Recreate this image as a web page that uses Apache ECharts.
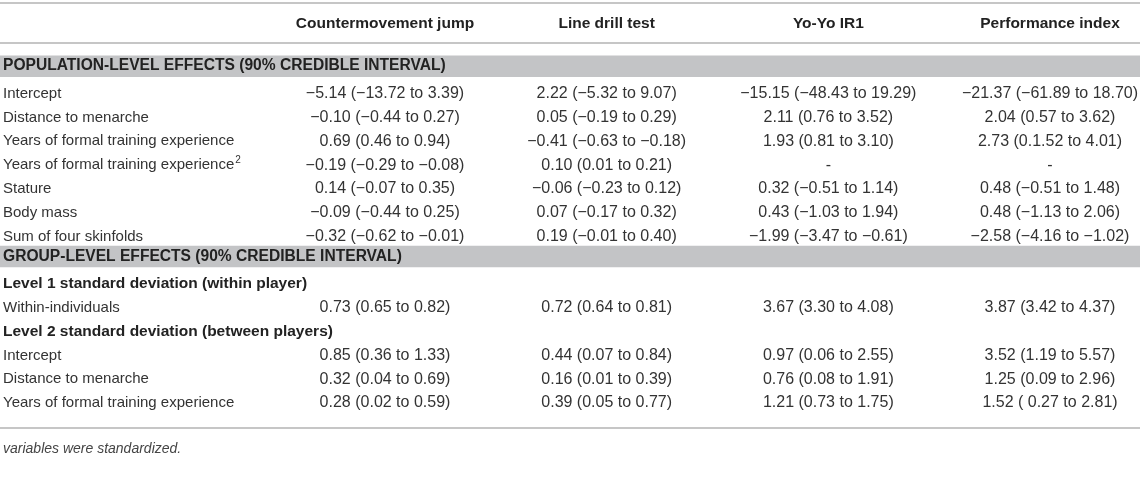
<!DOCTYPE html>
<html lang="en">
<head>
    <meta charset="UTF-8">
    <title>Model estimates</title>
    <script src="https://cdn.jsdelivr.net/npm/echarts@6/dist/echarts.min.js"></script>
    <style>
        html, body { margin: 0; padding: 0; background: #fff; }
        #table { width: 1143px; height: 482px; }
    </style>
</head>
<body>
<div id="table"></div>
<script>
    // column headers
    var columns = ['Countermovement jump', 'Line drill test', 'Yo-Yo IR1', 'Performance index'];

    // row labels ({band|..}/{h|..} = bold section rows, {sup|..} = superscript)
    var rowLabels = [
        '{band|POPULATION-LEVEL EFFECTS (90% CREDIBLE INTERVAL)}',
        'Intercept',
        'Distance to menarche',
        'Years of formal training experience',
        'Years of formal training experience{sup|2}',
        'Stature',
        'Body mass',
        'Sum of four skinfolds',
        '{band|GROUP-LEVEL EFFECTS (90% CREDIBLE INTERVAL)}',
        '{h|Level 1 standard deviation (within player)}',
        'Within-individuals',
        '{h|Level 2 standard deviation (between players)}',
        'Intercept',
        'Distance to menarche',
        'Years of formal training experience'
    ];

    // rows that get the grey band
    var bandRows = [0, 8];

    var cmj = ['', '−5.14 (−13.72 to 3.39)', '−0.10 (−0.44 to 0.27)', '0.69 (0.46 to 0.94)',
        '−0.19 (−0.29 to −0.08)', '0.14 (−0.07 to 0.35)', '−0.09 (−0.44 to 0.25)', '−0.32 (−0.62 to −0.01)',
        '', '', '0.73 (0.65 to 0.82)', '', '0.85 (0.36 to 1.33)', '0.32 (0.04 to 0.69)', '0.28 (0.02 to 0.59)'];
    var lineDrill = ['', '2.22 (−5.32 to 9.07)', '0.05 (−0.19 to 0.29)', '−0.41 (−0.63 to −0.18)',
        '0.10 (0.01 to 0.21)', '−0.06 (−0.23 to 0.12)', '0.07 (−0.17 to 0.32)', '0.19 (−0.01 to 0.40)',
        '', '', '0.72 (0.64 to 0.81)', '', '0.44 (0.07 to 0.84)', '0.16 (0.01 to 0.39)', '0.39 (0.05 to 0.77)'];
    var yoyo = ['', '−15.15 (−48.43 to 19.29)', '2.11 (0.76 to 3.52)', '1.93 (0.81 to 3.10)',
        '-', '0.32 (−0.51 to 1.14)', '0.43 (−1.03 to 1.94)', '−1.99 (−3.47 to −0.61)',
        '', '', '3.67 (3.30 to 4.08)', '', '0.97 (0.06 to 2.55)', '0.76 (0.08 to 1.91)', '1.21 (0.73 to 1.75)'];
    var perfIndex = ['', '−21.37 (−61.89 to 18.70)', '2.04 (0.57 to 3.62)', '2.73 (0.1.52 to 4.01)',
        '-', '0.48 (−0.51 to 1.48)', '0.48 (−1.13 to 2.06)', '−2.58 (−4.16 to −1.02)',
        '', '', '3.87 (3.42 to 4.37)', '', '3.52 (1.19 to 5.57)', '1.25 (0.09 to 2.96)', '1.52 ( 0.27 to 2.81)'];

    var footnote = 'variables were standardized.';

    // cells: [column, row, text]
    var cells = [];
    [cmj, lineDrill, yoyo, perfIndex].forEach(function (col, c) {
        col.forEach(function (txt, r) {
            if (txt !== '') cells.push([c, r, txt]);
        });
    });

    var font = "'Liberation Sans', Arial, Helvetica, sans-serif";
    var ruleColor = '#c6c6c6';

    var chart = echarts.init(document.getElementById('table'));
    var option = {
        animation: false,
        title: {
            text: footnote,
            left: 3,
            top: 442,
            padding: 0,
            textStyle: {fontFamily: font, fontSize: 14, fontStyle: 'italic', fontWeight: 'normal', color: '#444'}
        },
        grid: {left: 385, right: 93, top: 70, bottom: 79},
        xAxis: {
            type: 'category',
            position: 'top',
            data: columns,
            boundaryGap: false,
            axisLine: {show: false},
            axisTick: {show: false},
            splitLine: {show: false},
            axisLabel: {
                interval: 0,
                margin: 38,
                fontFamily: font,
                fontSize: 15.5,
                fontWeight: 'bold',
                color: '#222'
            }
        },
        yAxis: {
            type: 'category',
            inverse: true,
            data: rowLabels,
            boundaryGap: false,
            z: 10,
            axisLine: {show: false},
            axisTick: {show: false},
            splitLine: {show: false},
            axisLabel: {
                interval: 0,
                align: 'left',
                margin: 382,
                fontFamily: font,
                fontSize: 15,
                color: '#333',
                rich: {
                    band: {fontFamily: font, fontSize: 15.6, fontWeight: 'bold', color: '#222', padding: [0, 0, 8, 0]},
                    h: {fontFamily: font, fontSize: 15.5, fontWeight: 'bold', color: '#222'},
                    sup: {fontFamily: font, fontSize: 10, color: '#333', padding: [0, 0, 9, 1]}
                }
            }
        },
        graphic: [
            {type: 'rect', shape: {x: 0, y: 2, width: 1140, height: 2}, style: {fill: ruleColor}},
            {type: 'rect', shape: {x: 0, y: 42, width: 1140, height: 2}, style: {fill: ruleColor}},
            {type: 'rect', shape: {x: 0, y: 427, width: 1140, height: 2}, style: {fill: ruleColor}}
        ],
        series: [
            {
                // grey section bands
                type: 'custom',
                z: 1,
                data: bandRows.map(function (r) { return [0, r]; }),
                renderItem: function (params, api) {
                    var p = api.coord([0, api.value(1)]);
                    return {
                        type: 'rect',
                        shape: {x: 0, y: p[1] - 14.5, width: 1140, height: 21.5},
                        style: {fill: '#c3c4c6'}
                    };
                }
            },
            {
                // value cells
                type: 'custom',
                z: 3,
                data: cells,
                encode: {x: 0, y: 1},
                renderItem: function (params, api) {
                    var p = api.coord([api.value(0), api.value(1)]);
                    return {
                        type: 'text',
                        x: p[0],
                        y: p[1],
                        style: {
                            text: cells[params.dataIndex][2],
                            fontFamily: font,
                            fontSize: 16,
                            fill: '#333',
                            align: 'center',
                            verticalAlign: 'middle'
                        }
                    };
                }
            }
        ]
    };
    chart.setOption(option);
</script>
</body>
</html>
